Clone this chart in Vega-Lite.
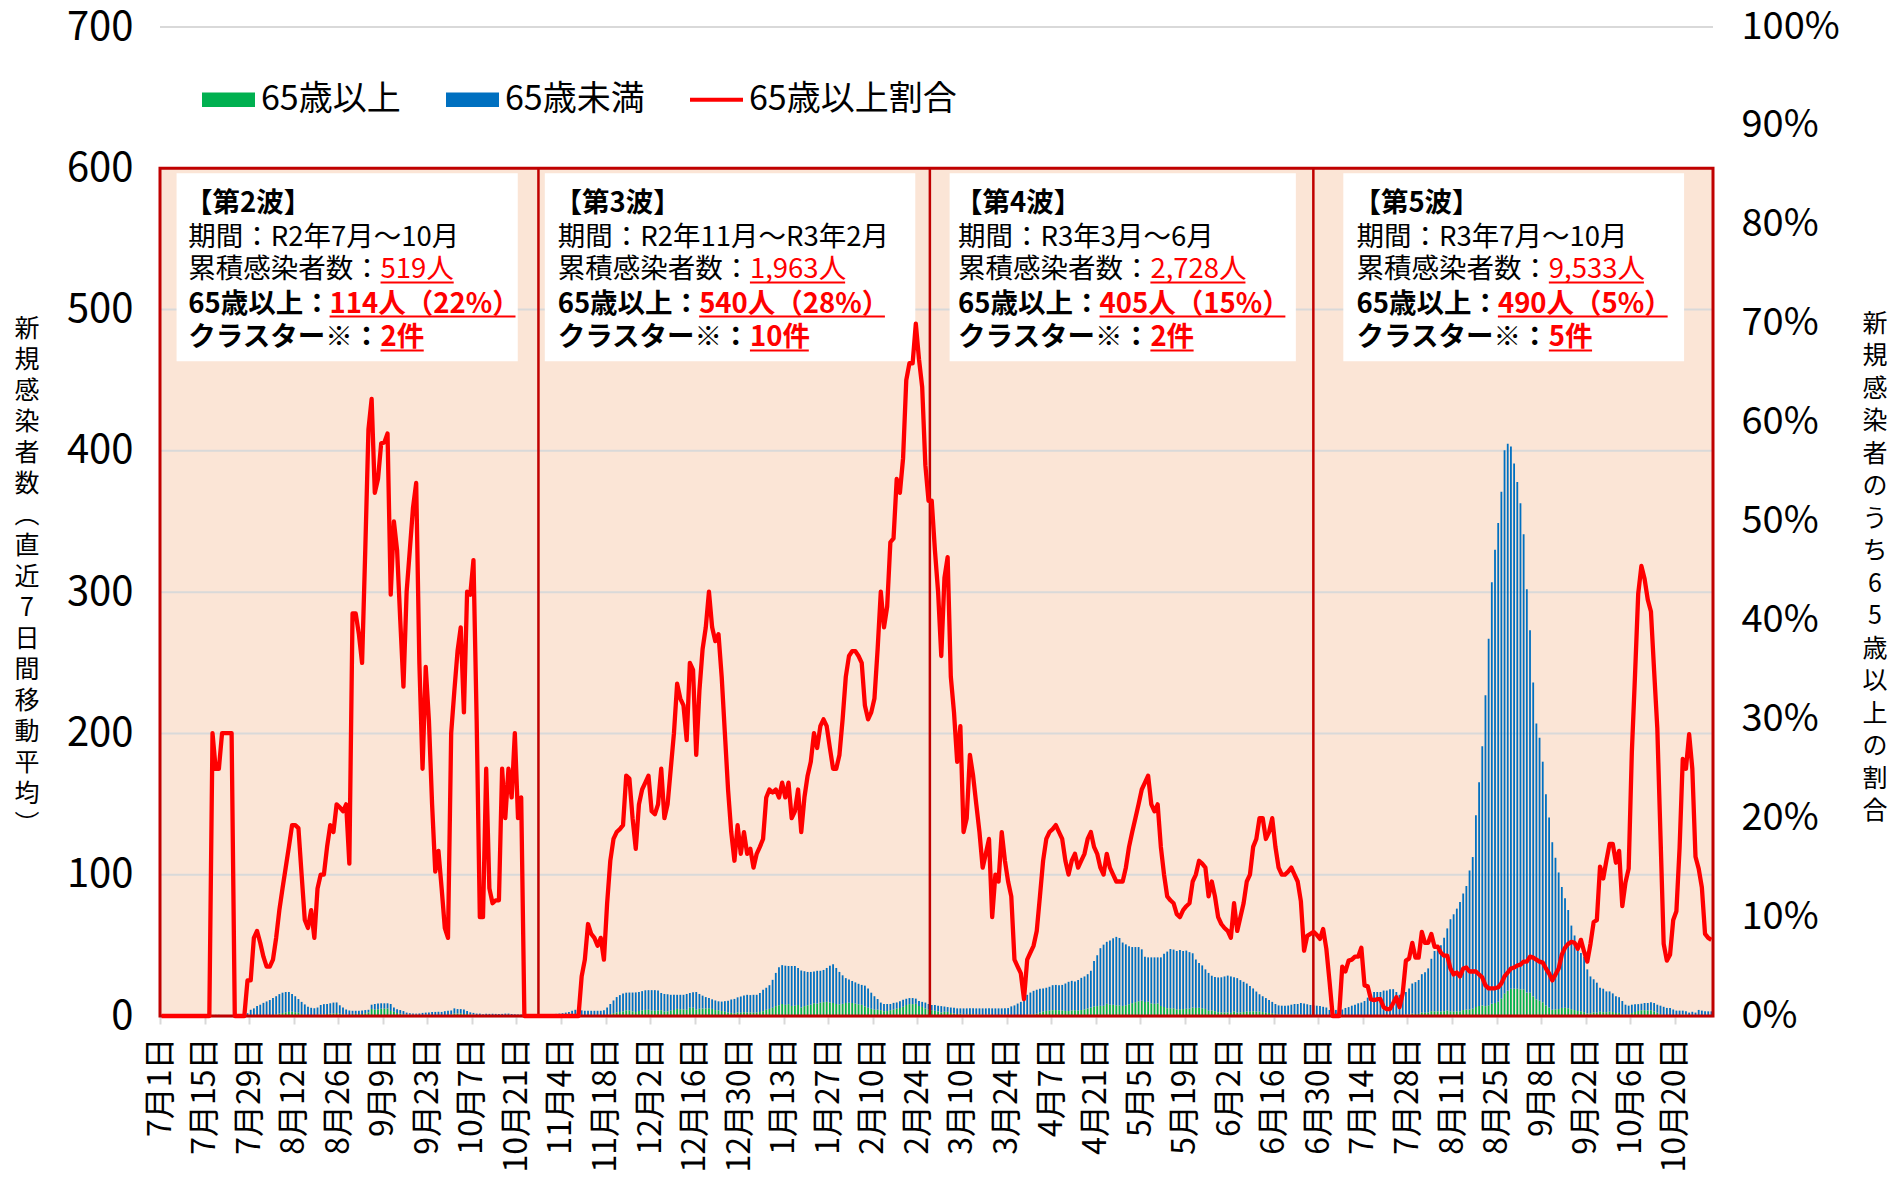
{
"$schema":"https://vega.github.io/schema/vega-lite/v6.json",
"autosize":{"type":"none"},
"width":1553,"height":989,
"padding":{"left":160,"top":27,"right":176,"bottom":169},
"background":"#ffffff",
"config":{"view":{"stroke":null},"font":"Noto Sans CJK JP",
"legend":{"labelFontSize":34,"labelFont":"Noto Sans CJK JP","labelColor":"#000000","labelOffset":6,"labelLimit":400,"columnPadding":45,"symbolSize":2809,"symbolStrokeWidth":0,"symbolOpacity":1,"padding":0}},
"datasets":{
"days":[
{"d":"2020-07-01","t":0,"g":0,"r":0},{"d":"2020-07-02","t":0,"g":0,"r":0},{"d":"2020-07-03","t":0,"g":0,"r":0},{"d":"2020-07-04","t":0,"g":0,"r":0},{"d":"2020-07-05","t":0,"g":0,"r":0},{"d":"2020-07-06","t":0,"g":0,"r":0},{"d":"2020-07-07","t":0,"g":0,"r":0},{"d":"2020-07-08","t":0,"g":0,"r":0},{"d":"2020-07-09","t":0,"g":0,"r":0},{"d":"2020-07-10","t":0,"g":0,"r":0},{"d":"2020-07-11","t":0,"g":0,"r":0},{"d":"2020-07-12","t":0,"g":0,"r":0},{"d":"2020-07-13","t":0,"g":0,"r":0},{"d":"2020-07-14","t":0,"g":0,"r":0},{"d":"2020-07-15","t":0,"g":0,"r":0},{"d":"2020-07-16","t":0,"g":0,"r":0},
{"d":"2020-07-17","t":0.7,"g":0.2,"r":28.6},{"d":"2020-07-18","t":0.8,"g":0.2,"r":25},{"d":"2020-07-19","t":0.8,"g":0.2,"r":25},{"d":"2020-07-20","t":0.7,"g":0.2,"r":28.6},{"d":"2020-07-21","t":0.7,"g":0.2,"r":28.6},{"d":"2020-07-22","t":0.7,"g":0.2,"r":28.6},{"d":"2020-07-23","t":0.7,"g":0.2,"r":28.6},
{"d":"2020-07-24","t":1,"g":0,"r":0},{"d":"2020-07-25","t":1.2,"g":0,"r":0},{"d":"2020-07-26","t":1.3,"g":0,"r":0},{"d":"2020-07-27","t":1.5,"g":0,"r":0},
{"d":"2020-07-28","t":2,"g":0.1,"r":3.6},{"d":"2020-07-29","t":4.4,"g":0.2,"r":3.6},{"d":"2020-07-30","t":5.4,"g":0.4,"r":7.9},{"d":"2020-07-31","t":7,"g":0.6,"r":8.6},
{"d":"2020-08-01","t":8,"g":0.6,"r":7.4},{"d":"2020-08-02","t":9.3,"g":0.6,"r":6},{"d":"2020-08-03","t":10.3,"g":0.5,"r":5},{"d":"2020-08-04","t":11.3,"g":0.6,"r":5},{"d":"2020-08-05","t":12.7,"g":0.7,"r":5.7},{"d":"2020-08-06","t":14,"g":1.1,"r":7.9},{"d":"2020-08-07","t":15.5,"g":1.7,"r":10.7},{"d":"2020-08-08","t":16.5,"g":2.1,"r":12.9},{"d":"2020-08-09","t":17,"g":2.6,"r":15},{"d":"2020-08-10","t":17,"g":2.9,"r":17.1},{"d":"2020-08-11","t":15.6,"g":3,"r":19.3},{"d":"2020-08-12","t":14,"g":2.7,"r":19.3},{"d":"2020-08-13","t":12,"g":2.3,"r":19},{"d":"2020-08-14","t":10,"g":1.4,"r":14.3},{"d":"2020-08-15","t":8.2,"g":0.8,"r":9.7},{"d":"2020-08-16","t":6.6,"g":0.6,"r":8.9},{"d":"2020-08-17","t":5.8,"g":0.6,"r":10.7},{"d":"2020-08-18","t":5.5,"g":0.4,"r":7.9},{"d":"2020-08-19","t":6,"g":0.8,"r":12.9},{"d":"2020-08-20","t":7.8,"g":1.1,"r":14.3},{"d":"2020-08-21","t":8.4,"g":1.2,"r":14.3},{"d":"2020-08-22","t":8.5,"g":1.5,"r":17.1},{"d":"2020-08-23","t":9,"g":1.7,"r":19.3},{"d":"2020-08-24","t":9.5,"g":1.8,"r":18.6},{"d":"2020-08-25","t":9.6,"g":2.1,"r":21.4},{"d":"2020-08-26","t":7.6,"g":1.6,"r":21.1},{"d":"2020-08-27","t":6,"g":1.3,"r":20.7},{"d":"2020-08-28","t":4.6,"g":1,"r":21.4},{"d":"2020-08-29","t":3.9,"g":0.6,"r":15.4},{"d":"2020-08-30","t":3.7,"g":1.5,"r":40.7},{"d":"2020-08-31","t":3.7,"g":1.5,"r":40.7},
{"d":"2020-09-01","t":3.7,"g":1.4,"r":38.6},{"d":"2020-09-02","t":3.9,"g":1.4,"r":35.7},{"d":"2020-09-03","t":4.2,"g":2,"r":47.1},{"d":"2020-09-04","t":4.4,"g":2.6,"r":59.3},{"d":"2020-09-05","t":8,"g":5,"r":62.4},{"d":"2020-09-06","t":8.5,"g":4.5,"r":52.9},{"d":"2020-09-07","t":8.8,"g":4.8,"r":54.3},{"d":"2020-09-08","t":9,"g":5.2,"r":57.9},{"d":"2020-09-09","t":9,"g":5.2,"r":58},{"d":"2020-09-10","t":9,"g":5.3,"r":58.9},{"d":"2020-09-11","t":8.5,"g":3.6,"r":42.6},{"d":"2020-09-12","t":6,"g":3,"r":50},{"d":"2020-09-13","t":4.7,"g":2.2,"r":47.1},{"d":"2020-09-14","t":4.2,"g":1.7,"r":40},{"d":"2020-09-15","t":3.5,"g":1.2,"r":33.3},{"d":"2020-09-16","t":2.4,"g":1,"r":42.9},{"d":"2020-09-17","t":2,"g":0.9,"r":47.1},{"d":"2020-09-18","t":1.7,"g":0.9,"r":51.4},{"d":"2020-09-19","t":1.7,"g":0.9,"r":53.9},{"d":"2020-09-20","t":1.8,"g":0.65,"r":35.7},{"d":"2020-09-21","t":2.2,"g":0.55,"r":25},{"d":"2020-09-22","t":2.4,"g":0.85,"r":35.3},{"d":"2020-09-23","t":2.4,"g":0.7,"r":29.9},{"d":"2020-09-24","t":2.9,"g":0.6,"r":21.4},{"d":"2020-09-25","t":2.9,"g":0.4,"r":14.6},{"d":"2020-09-26","t":3,"g":0.5,"r":16.7},{"d":"2020-09-27","t":2.9,"g":0.4,"r":12.9},{"d":"2020-09-28","t":3.4,"g":0.3,"r":8.9},{"d":"2020-09-29","t":3.7,"g":0.3,"r":7.9},{"d":"2020-09-30","t":3.9,"g":1.1,"r":28.6},
{"d":"2020-10-01","t":5.4,"g":1.8,"r":32.9},{"d":"2020-10-02","t":4.9,"g":1.8,"r":36.9},{"d":"2020-10-03","t":4.9,"g":1.9,"r":39.3},{"d":"2020-10-04","t":4.6,"g":1.4,"r":30.7},{"d":"2020-10-05","t":3.5,"g":1.5,"r":42.9},{"d":"2020-10-06","t":2.6,"g":1.1,"r":42.6},{"d":"2020-10-07","t":2.2,"g":1,"r":46.1},{"d":"2020-10-08","t":1.7,"g":0.5,"r":30},{"d":"2020-10-09","t":1.7,"g":0.17,"r":10},{"d":"2020-10-10","t":1.3,"g":0.13,"r":10},{"d":"2020-10-11","t":1.6,"g":0.4,"r":25},{"d":"2020-10-12","t":1.5,"g":0.2,"r":12.9},{"d":"2020-10-13","t":1.6,"g":0.2,"r":11.4},{"d":"2020-10-14","t":1.5,"g":0.18,"r":11.7},{"d":"2020-10-15","t":1.5,"g":0.18,"r":11.7},{"d":"2020-10-16","t":1.5,"g":0.38,"r":25},{"d":"2020-10-17","t":1.7,"g":0.34,"r":20},{"d":"2020-10-18","t":1.7,"g":0.43,"r":25},{"d":"2020-10-19","t":1.4,"g":0.31,"r":22.1},{"d":"2020-10-20","t":1.2,"g":0.34,"r":28.6},{"d":"2020-10-21","t":1.1,"g":0.22,"r":20},{"d":"2020-10-22","t":1,"g":0.22,"r":22.1},{"d":"2020-10-23","t":1,"g":0,"r":0},{"d":"2020-10-24","t":0.8,"g":0,"r":0},{"d":"2020-10-25","t":1,"g":0,"r":0},{"d":"2020-10-26","t":1,"g":0,"r":0},{"d":"2020-10-27","t":1,"g":0,"r":0},{"d":"2020-10-28","t":1.1,"g":0,"r":0},{"d":"2020-10-29","t":1.2,"g":0,"r":0},{"d":"2020-10-30","t":1.2,"g":0,"r":0},{"d":"2020-10-31","t":1.3,"g":0,"r":0},
{"d":"2020-11-01","t":1.4,"g":0,"r":0},{"d":"2020-11-02","t":1.5,"g":0,"r":0},{"d":"2020-11-03","t":1.7,"g":0,"r":0},{"d":"2020-11-04","t":2,"g":0,"r":0},{"d":"2020-11-05","t":2.4,"g":0,"r":0},{"d":"2020-11-06","t":2.8,"g":0,"r":0},{"d":"2020-11-07","t":3.7,"g":0,"r":0},{"d":"2020-11-08","t":4.4,"g":0,"r":0},{"d":"2020-11-09","t":4.4,"g":0,"r":0},{"d":"2020-11-10","t":4,"g":0.18,"r":4},{"d":"2020-11-11","t":3.7,"g":0.21,"r":5.7},{"d":"2020-11-12","t":3.7,"g":0.34,"r":9.3},{"d":"2020-11-13","t":3.7,"g":0.31,"r":8.3},{"d":"2020-11-14","t":3.7,"g":0.29,"r":7.9},{"d":"2020-11-15","t":3.7,"g":0.26,"r":7.1},{"d":"2020-11-16","t":3.7,"g":0.29,"r":7.9},{"d":"2020-11-17","t":4,"g":0.23,"r":5.7},{"d":"2020-11-18","t":6,"g":0.7,"r":11.4},{"d":"2020-11-19","t":8.5,"g":1.3,"r":15.7},{"d":"2020-11-20","t":11,"g":2,"r":17.9},{"d":"2020-11-21","t":13.4,"g":2.5,"r":18.6},{"d":"2020-11-22","t":14.8,"g":2.8,"r":18.9},{"d":"2020-11-23","t":16,"g":3.1,"r":19.3},{"d":"2020-11-24","t":16.5,"g":4,"r":24.3},{"d":"2020-11-25","t":16.6,"g":4,"r":24},{"d":"2020-11-26","t":16.6,"g":3.3,"r":20},{"d":"2020-11-27","t":16.7,"g":2.8,"r":16.9},{"d":"2020-11-28","t":17,"g":3.6,"r":21.4},{"d":"2020-11-29","t":17.6,"g":4,"r":22.9},{"d":"2020-11-30","t":18.2,"g":4.3,"r":23.6},
{"d":"2020-12-01","t":18.3,"g":4.4,"r":24.3},{"d":"2020-12-02","t":18.3,"g":3.8,"r":20.7},{"d":"2020-12-03","t":18.3,"g":3.7,"r":20.4},{"d":"2020-12-04","t":18,"g":3.9,"r":21.4},{"d":"2020-12-05","t":16.3,"g":4.1,"r":25},{"d":"2020-12-06","t":15.6,"g":3.1,"r":20},{"d":"2020-12-07","t":15.4,"g":3.3,"r":21.4},{"d":"2020-12-08","t":15,"g":3.8,"r":25},{"d":"2020-12-09","t":15,"g":4.3,"r":28.6},{"d":"2020-12-10","t":15,"g":5,"r":33.6},{"d":"2020-12-11","t":15,"g":4.8,"r":32.1},{"d":"2020-12-12","t":15,"g":4.7,"r":31.4},{"d":"2020-12-13","t":15.6,"g":4.4,"r":27.9},{"d":"2020-12-14","t":16.3,"g":5.8,"r":35.7},{"d":"2020-12-15","t":16.8,"g":5.9,"r":35},{"d":"2020-12-16","t":17,"g":4.5,"r":26.4},{"d":"2020-12-17","t":15.6,"g":5.1,"r":32.9},{"d":"2020-12-18","t":14.4,"g":5.3,"r":37.1},{"d":"2020-12-19","t":13.4,"g":5.3,"r":39.3},{"d":"2020-12-20","t":12.7,"g":5.4,"r":42.9},{"d":"2020-12-21","t":11.8,"g":5,"r":39.3},{"d":"2020-12-22","t":11,"g":4.2,"r":37.9},{"d":"2020-12-23","t":10.4,"g":4,"r":38.6},{"d":"2020-12-24","t":10.2,"g":3.5,"r":34.3},{"d":"2020-12-25","t":10.5,"g":3,"r":28.6},{"d":"2020-12-26","t":10.8,"g":2.5,"r":22.9},{"d":"2020-12-27","t":11.7,"g":2.2,"r":18.6},{"d":"2020-12-28","t":12.1,"g":1.9,"r":15.7},{"d":"2020-12-29","t":13.2,"g":2.5,"r":19.3},{"d":"2020-12-30","t":13.8,"g":2.3,"r":16.4},{"d":"2020-12-31","t":14.5,"g":2.7,"r":18.6},
{"d":"2021-01-01","t":15,"g":2.5,"r":16.4},{"d":"2021-01-02","t":14.8,"g":2.5,"r":16.9},{"d":"2021-01-03","t":15,"g":2.3,"r":15},{"d":"2021-01-04","t":15,"g":2.5,"r":16.4},{"d":"2021-01-05","t":16.3,"g":2.8,"r":17.1},{"d":"2021-01-06","t":18.5,"g":3.3,"r":17.9},{"d":"2021-01-07","t":20,"g":4.4,"r":22.1},{"d":"2021-01-08","t":21.8,"g":5,"r":22.9},{"d":"2021-01-09","t":25.6,"g":5.8,"r":22.6},{"d":"2021-01-10","t":30.5,"g":7,"r":22.9},{"d":"2021-01-11","t":34.5,"g":7.6,"r":22.1},{"d":"2021-01-12","t":36,"g":8.5,"r":23.6},{"d":"2021-01-13","t":35.6,"g":7.9,"r":22.1},{"d":"2021-01-14","t":35.4,"g":8.4,"r":23.6},{"d":"2021-01-15","t":35.4,"g":7.1,"r":20},{"d":"2021-01-16","t":35.4,"g":7.3,"r":20.7},{"d":"2021-01-17","t":34,"g":7.8,"r":22.9},{"d":"2021-01-18","t":32.2,"g":6,"r":18.6},{"d":"2021-01-19","t":31.7,"g":7,"r":22.1},{"d":"2021-01-20","t":31.2,"g":7.6,"r":24.3},{"d":"2021-01-21","t":31.2,"g":8,"r":25.7},{"d":"2021-01-22","t":31.5,"g":9,"r":28.6},{"d":"2021-01-23","t":32,"g":8.7,"r":27.1},{"d":"2021-01-24","t":32,"g":9.4,"r":29.3},{"d":"2021-01-25","t":32.6,"g":9.8,"r":30},{"d":"2021-01-26","t":34,"g":10,"r":29.3},{"d":"2021-01-27","t":35.6,"g":9.6,"r":27.1},{"d":"2021-01-28","t":36.6,"g":9.2,"r":25},{"d":"2021-01-29","t":34,"g":8.5,"r":25},{"d":"2021-01-30","t":31.2,"g":8.2,"r":26.4},{"d":"2021-01-31","t":28.8,"g":8.6,"r":30},
{"d":"2021-02-01","t":26.8,"g":9.2,"r":34.3},{"d":"2021-02-02","t":25.8,"g":9.4,"r":36.4},{"d":"2021-02-03","t":24.8,"g":9.2,"r":36.9},{"d":"2021-02-04","t":23.8,"g":8.8,"r":36.9},{"d":"2021-02-05","t":22.8,"g":8.3,"r":36.4},{"d":"2021-02-06","t":22,"g":7.9,"r":35.7},{"d":"2021-02-07","t":21.5,"g":6.8,"r":31.4},{"d":"2021-02-08","t":19.5,"g":5.9,"r":30},{"d":"2021-02-09","t":16.5,"g":5.1,"r":30.7},{"d":"2021-02-10","t":14,"g":4.5,"r":32.1},{"d":"2021-02-11","t":12,"g":4.5,"r":37.1},{"d":"2021-02-12","t":9.5,"g":4.1,"r":42.9},{"d":"2021-02-13","t":8.5,"g":3.3,"r":39.3},{"d":"2021-02-14","t":8.5,"g":3.5,"r":41.4},{"d":"2021-02-15","t":8.5,"g":4.1,"r":47.9},{"d":"2021-02-16","t":9.3,"g":4.5,"r":48.3},{"d":"2021-02-17","t":9.6,"g":5.2,"r":54.3},{"d":"2021-02-18","t":10.5,"g":5.6,"r":52.9},{"d":"2021-02-19","t":11.5,"g":6.5,"r":56.4},{"d":"2021-02-20","t":12.2,"g":7.8,"r":64.3},{"d":"2021-02-21","t":12.7,"g":8.4,"r":66},{"d":"2021-02-22","t":12.7,"g":8.4,"r":66},{"d":"2021-02-23","t":12.3,"g":8.6,"r":70},{"d":"2021-02-24","t":10.6,"g":7,"r":66.4},{"d":"2021-02-25","t":10,"g":6.4,"r":63.6},{"d":"2021-02-26","t":9.5,"g":5.3,"r":55.7},{"d":"2021-02-27","t":8.5,"g":4.4,"r":52.1},{"d":"2021-02-28","t":7.8,"g":4.1,"r":52.1},
{"d":"2021-03-01","t":7.8,"g":3.7,"r":47.1},{"d":"2021-03-02","t":7.3,"g":3.1,"r":42.9},{"d":"2021-03-03","t":7,"g":2.5,"r":36.4},{"d":"2021-03-04","t":6.7,"g":3,"r":44.3},{"d":"2021-03-05","t":6.3,"g":2.9,"r":46.4},{"d":"2021-03-06","t":6,"g":2.1,"r":34.3},{"d":"2021-03-07","t":5.8,"g":1.8,"r":30.7},{"d":"2021-03-08","t":5.4,"g":1.4,"r":25.7},{"d":"2021-03-09","t":5.4,"g":1.6,"r":29.3},{"d":"2021-03-10","t":5.4,"g":1,"r":18.6},{"d":"2021-03-11","t":5.4,"g":1.1,"r":20},{"d":"2021-03-12","t":5.4,"g":1.4,"r":26.4},{"d":"2021-03-13","t":5.4,"g":1.3,"r":24.3},{"d":"2021-03-14","t":5.4,"g":1.2,"r":21.4},{"d":"2021-03-15","t":5.4,"g":1,"r":18.6},{"d":"2021-03-16","t":5.4,"g":0.8,"r":15},{"d":"2021-03-17","t":5.4,"g":0.9,"r":16.4},{"d":"2021-03-18","t":5.4,"g":1,"r":17.9},{"d":"2021-03-19","t":5.4,"g":0.5,"r":10},{"d":"2021-03-20","t":5.4,"g":0.8,"r":14.3},{"d":"2021-03-21","t":5.4,"g":0.7,"r":13.6},{"d":"2021-03-22","t":5.4,"g":1,"r":18.6},{"d":"2021-03-23","t":5.4,"g":0.85,"r":15.7},{"d":"2021-03-24","t":5.6,"g":0.76,"r":13.6},{"d":"2021-03-25","t":6.8,"g":0.8,"r":12.1},{"d":"2021-03-26","t":7.5,"g":0.43,"r":5.7},{"d":"2021-03-27","t":8.8,"g":0.44,"r":5},{"d":"2021-03-28","t":10,"g":0.43,"r":4.3},{"d":"2021-03-29","t":13.4,"g":0.23,"r":1.7},{"d":"2021-03-30","t":15,"g":0.86,"r":5.7},{"d":"2021-03-31","t":16.6,"g":1.06,"r":6.4},
{"d":"2021-04-01","t":17.8,"g":1.27,"r":7.1},{"d":"2021-04-02","t":18.6,"g":1.6,"r":8.6},{"d":"2021-04-03","t":19.2,"g":2.3,"r":12.1},{"d":"2021-04-04","t":19.5,"g":3.1,"r":15.7},{"d":"2021-04-05","t":20,"g":3.6,"r":17.9},{"d":"2021-04-06","t":20.7,"g":3.9,"r":18.6},{"d":"2021-04-07","t":21.8,"g":4.1,"r":18.9},{"d":"2021-04-08","t":22,"g":4.2,"r":19.3},{"d":"2021-04-09","t":21.8,"g":4.1,"r":18.6},{"d":"2021-04-10","t":22,"g":3.9,"r":17.9},{"d":"2021-04-11","t":23,"g":3.6,"r":15.7},{"d":"2021-04-12","t":24.2,"g":3.5,"r":14.3},{"d":"2021-04-13","t":24.9,"g":3.9,"r":15.7},{"d":"2021-04-14","t":24.5,"g":4,"r":16.4},{"d":"2021-04-15","t":25.5,"g":3.8,"r":15},{"d":"2021-04-16","t":27,"g":4.2,"r":15.7},{"d":"2021-04-17","t":28,"g":4.6,"r":16.4},{"d":"2021-04-18","t":29.6,"g":5.3,"r":17.9},{"d":"2021-04-19","t":32,"g":6,"r":18.6},{"d":"2021-04-20","t":39,"g":6.7,"r":17.1},{"d":"2021-04-21","t":43,"g":7,"r":16.4},{"d":"2021-04-22","t":48,"g":7.2,"r":15},{"d":"2021-04-23","t":50.5,"g":7.2,"r":14.3},{"d":"2021-04-24","t":52.5,"g":8.6,"r":16.4},{"d":"2021-04-25","t":53.5,"g":8,"r":15},{"d":"2021-04-26","t":55,"g":7.9,"r":14.3},{"d":"2021-04-27","t":56,"g":7.6,"r":13.6},{"d":"2021-04-28","t":55.2,"g":7.5,"r":13.6},{"d":"2021-04-29","t":52,"g":7.1,"r":13.6},{"d":"2021-04-30","t":50.7,"g":7.6,"r":15},
{"d":"2021-05-01","t":49.3,"g":8.4,"r":17.1},{"d":"2021-05-02","t":48.8,"g":9.1,"r":18.6},{"d":"2021-05-03","t":48.8,"g":9.8,"r":20},{"d":"2021-05-04","t":48.8,"g":10.4,"r":21.4},{"d":"2021-05-05","t":47.2,"g":10.8,"r":22.9},{"d":"2021-05-06","t":42,"g":9.9,"r":23.6},{"d":"2021-05-07","t":41.5,"g":10.1,"r":24.3},{"d":"2021-05-08","t":41.5,"g":8.9,"r":21.4},{"d":"2021-05-09","t":41.5,"g":8.6,"r":20.7},{"d":"2021-05-10","t":41.5,"g":8.9,"r":21.4},{"d":"2021-05-11","t":41.5,"g":7.1,"r":17.1},{"d":"2021-05-12","t":44,"g":6.3,"r":14.3},{"d":"2021-05-13","t":45.6,"g":5.5,"r":12.1},{"d":"2021-05-14","t":47.4,"g":5.5,"r":11.7},{"d":"2021-05-15","t":47,"g":5.4,"r":11.4},{"d":"2021-05-16","t":46,"g":4.7,"r":10.3},{"d":"2021-05-17","t":46.7,"g":4.7,"r":10},{"d":"2021-05-18","t":46,"g":4.9,"r":10.7},{"d":"2021-05-19","t":46.3,"g":5.1,"r":11.1},{"d":"2021-05-20","t":45.2,"g":5.2,"r":11.4},{"d":"2021-05-21","t":44.4,"g":6,"r":13.6},{"d":"2021-05-22","t":40,"g":5.7,"r":14.3},{"d":"2021-05-23","t":37.5,"g":5.9,"r":15.7},{"d":"2021-05-24","t":35.8,"g":5.5,"r":15.4},{"d":"2021-05-25","t":33,"g":5,"r":15},{"d":"2021-05-26","t":30.5,"g":3.7,"r":12.1},{"d":"2021-05-27","t":28.5,"g":3.9,"r":13.6},{"d":"2021-05-28","t":27.6,"g":3.3,"r":12.1},{"d":"2021-05-29","t":27.3,"g":2.7,"r":10},{"d":"2021-05-30","t":27.4,"g":2.5,"r":9.3},{"d":"2021-05-31","t":28,"g":2.5,"r":8.9},
{"d":"2021-06-01","t":28.6,"g":2.5,"r":8.6},{"d":"2021-06-02","t":28,"g":2.2,"r":7.9},{"d":"2021-06-03","t":27.5,"g":3.1,"r":11.4},{"d":"2021-06-04","t":26.8,"g":2.3,"r":8.6},{"d":"2021-06-05","t":25.4,"g":2.5,"r":10},{"d":"2021-06-06","t":24.2,"g":2.8,"r":11.4},{"d":"2021-06-07","t":23,"g":3.1,"r":13.6},{"d":"2021-06-08","t":21.3,"g":3,"r":14.3},{"d":"2021-06-09","t":19.5,"g":3.3,"r":17.1},{"d":"2021-06-10","t":17.3,"g":3.1,"r":17.9},{"d":"2021-06-11","t":15.4,"g":3.1,"r":20},{"d":"2021-06-12","t":14,"g":2.8,"r":20},{"d":"2021-06-13","t":12.7,"g":2.3,"r":17.9},{"d":"2021-06-14","t":11.4,"g":2.1,"r":18.6},{"d":"2021-06-15","t":10,"g":2,"r":20},{"d":"2021-06-16","t":8.5,"g":1.5,"r":17.1},{"d":"2021-06-17","t":7.5,"g":1.1,"r":15},{"d":"2021-06-18","t":7.3,"g":1,"r":14.3},{"d":"2021-06-19","t":7.3,"g":1,"r":14.3},{"d":"2021-06-20","t":7.4,"g":1.1,"r":14.6},{"d":"2021-06-21","t":8,"g":1.2,"r":15},{"d":"2021-06-22","t":8.5,"g":1.2,"r":14.3},{"d":"2021-06-23","t":8.5,"g":1.2,"r":13.6},{"d":"2021-06-24","t":9.2,"g":1.1,"r":11.6},{"d":"2021-06-25","t":8.8,"g":0.6,"r":6.6},{"d":"2021-06-26","t":8.3,"g":0.7,"r":8.1},{"d":"2021-06-27","t":7.8,"g":0.65,"r":8.3},{"d":"2021-06-28","t":7.5,"g":0.64,"r":8.5},{"d":"2021-06-29","t":7.3,"g":0.6,"r":8.2},{"d":"2021-06-30","t":7,"g":0.5,"r":7.8},
{"d":"2021-07-01","t":6.5,"g":0.6,"r":8.8},{"d":"2021-07-02","t":6,"g":0.4,"r":6.8},{"d":"2021-07-03","t":4.3,"g":0.2,"r":3.5},{"d":"2021-07-04","t":4,"g":0,"r":0},{"d":"2021-07-05","t":4.3,"g":0,"r":0},{"d":"2021-07-06","t":4.3,"g":0,"r":0},{"d":"2021-07-07","t":4.6,"g":0.2,"r":5},{"d":"2021-07-08","t":5.7,"g":0.3,"r":4.5},{"d":"2021-07-09","t":6.3,"g":0.35,"r":5.6},{"d":"2021-07-10","t":7.3,"g":0.4,"r":5.7},{"d":"2021-07-11","t":8,"g":0.5,"r":6},{"d":"2021-07-12","t":9,"g":0.5,"r":6},{"d":"2021-07-13","t":9.5,"g":0.65,"r":6.9},{"d":"2021-07-14","t":10.6,"g":0.35,"r":3.1},{"d":"2021-07-15","t":13,"g":0.4,"r":3},{"d":"2021-07-16","t":13,"g":0.2,"r":1.7},{"d":"2021-07-17","t":17,"g":0.3,"r":1.6},{"d":"2021-07-18","t":17,"g":0.3,"r":1.7},{"d":"2021-07-19","t":17,"g":0.3,"r":1.7},{"d":"2021-07-20","t":18,"g":0.2,"r":0.9},{"d":"2021-07-21","t":18,"g":0.15,"r":0.7},{"d":"2021-07-22","t":19,"g":0.15,"r":0.7},{"d":"2021-07-23","t":19,"g":0.25,"r":1.3},{"d":"2021-07-24","t":17,"g":0.3,"r":1.9},{"d":"2021-07-25","t":15,"g":0.15,"r":0.9},{"d":"2021-07-26","t":16,"g":0.4,"r":2.3},{"d":"2021-07-27","t":17,"g":1,"r":5.6},{"d":"2021-07-28","t":19.5,"g":1.1,"r":5.8},{"d":"2021-07-29","t":23,"g":1.7,"r":7.4},{"d":"2021-07-30","t":24,"g":1.4,"r":5.9},{"d":"2021-07-31","t":25.5,"g":1.5,"r":5.9},
{"d":"2021-08-01","t":29.6,"g":2.5,"r":8.5},{"d":"2021-08-02","t":31,"g":2.3,"r":7.4},{"d":"2021-08-03","t":33.7,"g":2.5,"r":7.4},{"d":"2021-08-04","t":40.5,"g":3.4,"r":8.3},{"d":"2021-08-05","t":46,"g":3.2,"r":7},{"d":"2021-08-06","t":46.5,"g":3.3,"r":7},{"d":"2021-08-07","t":50,"g":3.2,"r":6.4},{"d":"2021-08-08","t":55.4,"g":3.4,"r":6.1},{"d":"2021-08-09","t":62,"g":3.8,"r":6.1},{"d":"2021-08-10","t":68.5,"g":3.3,"r":4.8},{"d":"2021-08-11","t":72,"g":3,"r":4.2},{"d":"2021-08-12","t":76,"g":3.3,"r":4.4},{"d":"2021-08-13","t":80.7,"g":3.2,"r":4},{"d":"2021-08-14","t":86.7,"g":4.2,"r":4.8},{"d":"2021-08-15","t":92,"g":4.5,"r":4.9},{"d":"2021-08-16","t":103,"g":4.6,"r":4.5},{"d":"2021-08-17","t":112.5,"g":5.1,"r":4.5},{"d":"2021-08-18","t":142,"g":6.4,"r":4.5},{"d":"2021-08-19","t":165.5,"g":7,"r":4.2},{"d":"2021-08-20","t":191,"g":7.4,"r":3.9},{"d":"2021-08-21","t":227,"g":7,"r":3.1},{"d":"2021-08-22","t":267,"g":7.5,"r":2.8},{"d":"2021-08-23","t":307,"g":8.6,"r":2.8},{"d":"2021-08-24","t":330,"g":9.2,"r":2.8},{"d":"2021-08-25","t":349,"g":10.1,"r":2.9},{"d":"2021-08-26","t":371,"g":12.2,"r":3.3},{"d":"2021-08-27","t":400.5,"g":16,"r":4},{"d":"2021-08-28","t":405,"g":17.8,"r":4.4},{"d":"2021-08-29","t":403,"g":19.3,"r":4.8},{"d":"2021-08-30","t":391,"g":19.2,"r":4.9},{"d":"2021-08-31","t":378,"g":19.3,"r":5.1},
{"d":"2021-09-01","t":363,"g":18.9,"r":5.2},{"d":"2021-09-02","t":341,"g":18.8,"r":5.5},{"d":"2021-09-03","t":302,"g":16.6,"r":5.5},{"d":"2021-09-04","t":273,"g":16.4,"r":6},{"d":"2021-09-05","t":236,"g":13.9,"r":5.9},{"d":"2021-09-06","t":207,"g":11.8,"r":5.7},{"d":"2021-09-07","t":197,"g":10.8,"r":5.5},{"d":"2021-09-08","t":180,"g":9.7,"r":5.4},{"d":"2021-09-09","t":157,"g":7.5,"r":4.8},{"d":"2021-09-10","t":140.5,"g":6,"r":4.3},{"d":"2021-09-11","t":123,"g":4.4,"r":3.6},{"d":"2021-09-12","t":112,"g":4.7,"r":4.2},{"d":"2021-09-13","t":101.6,"g":4.9,"r":4.8},{"d":"2021-09-14","t":91.3,"g":5.7,"r":6.2},{"d":"2021-09-15","t":83.4,"g":5.8,"r":6.9},{"d":"2021-09-16","t":75,"g":5.5,"r":7.3},{"d":"2021-09-17","t":64,"g":4.8,"r":7.5},{"d":"2021-09-18","t":57,"g":4.2,"r":7.4},{"d":"2021-09-19","t":51,"g":3.5,"r":6.8},{"d":"2021-09-20","t":44.6,"g":3.4,"r":7.7},{"d":"2021-09-21","t":42,"g":2.7,"r":6.5},{"d":"2021-09-22","t":33,"g":1.8,"r":5.5},{"d":"2021-09-23","t":28,"g":2,"r":7.3},{"d":"2021-09-24","t":26,"g":2.5,"r":9.5},{"d":"2021-09-25","t":23.6,"g":2.3,"r":9.7},{"d":"2021-09-26","t":20,"g":3,"r":15.1},{"d":"2021-09-27","t":19.3,"g":2.7,"r":13.9},{"d":"2021-09-28","t":17.4,"g":2.7,"r":15.7},{"d":"2021-09-29","t":17.4,"g":3,"r":17.4},{"d":"2021-09-30","t":16,"g":2.8,"r":17.4},
{"d":"2021-10-01","t":14,"g":2.2,"r":15.5},{"d":"2021-10-02","t":13.3,"g":2.2,"r":16.7},{"d":"2021-10-03","t":10.6,"g":1.2,"r":11.1},{"d":"2021-10-04","t":8,"g":1.1,"r":13.5},{"d":"2021-10-05","t":7.3,"g":1.1,"r":14.9},{"d":"2021-10-06","t":8,"g":2.1,"r":26.7},{"d":"2021-10-07","t":8.4,"g":2.9,"r":34.5},{"d":"2021-10-08","t":8.4,"g":3.6,"r":42.7},{"d":"2021-10-09","t":8.7,"g":4,"r":45.5},{"d":"2021-10-10","t":9.2,"g":4.1,"r":44.2},{"d":"2021-10-11","t":9.2,"g":3.9,"r":42.1},{"d":"2021-10-12","t":9.8,"g":4,"r":40.9},{"d":"2021-10-13","t":9.2,"g":3.2,"r":34.9},{"d":"2021-10-14","t":8,"g":2.3,"r":29.1},{"d":"2021-10-15","t":7.3,"g":1.3,"r":18.2},{"d":"2021-10-16","t":6.5,"g":0.5,"r":7.3},{"d":"2021-10-17","t":5.7,"g":0.3,"r":5.6},{"d":"2021-10-18","t":5.7,"g":0.35,"r":6.2},{"d":"2021-10-19","t":4.6,"g":0.45,"r":9.7},{"d":"2021-10-20","t":3.8,"g":0.4,"r":10.6},{"d":"2021-10-21","t":3.8,"g":0.65,"r":17},{"d":"2021-10-22","t":3.8,"g":1,"r":26},{"d":"2021-10-23","t":3.3,"g":0.8,"r":25},{"d":"2021-10-24","t":2.4,"g":0.7,"r":28.5},{"d":"2021-10-25","t":3,"g":0.75,"r":25},{"d":"2021-10-26","t":2.4,"g":0.4,"r":16.1},{"d":"2021-10-27","t":4.3,"g":0.6,"r":14.9},{"d":"2021-10-28","t":3.8,"g":0.5,"r":13},{"d":"2021-10-29","t":3.3,"g":0.3,"r":8.3},{"d":"2021-10-30","t":3.3,"g":0.25,"r":7.9},{"d":"2021-10-31","t":3.3,"g":0.25,"r":7.7}
],
"grid":[{"g":100},{"g":200},{"g":300},{"g":400},{"g":500},{"g":600},{"g":700}],
"frame":[{"x1":"2020-07-01T00:00:00Z","x2":"2021-11-01T00:00:00Z","y1":0,"y2":600}],
"waves":[{"x":"2020-10-27T22:00:00Z","y1":0,"y2":600},{"x":"2021-02-27T22:00:00Z","y1":0,"y2":600},{"x":"2021-06-28T10:00:00Z","y1":0,"y2":600}],
"boxes":[
{"x1":"2020-07-06T05:00:00Z","x2":"2020-10-21T10:00:00Z","y1":463.5,"y2":596.5},
{"x1":"2020-10-29T22:00:00Z","x2":"2021-02-23T08:00:00Z","y1":463.5,"y2":596.5},
{"x1":"2021-03-06T03:00:00Z","x2":"2021-06-22T22:00:00Z","y1":463.5,"y2":596.5},
{"x1":"2021-07-07T20:00:00Z","x2":"2021-10-22T22:00:00Z","y1":463.5,"y2":596.5}],
"labB":[
{"x":"2020-07-08T21:00:00Z","y":569.1,"t":"【第2波】"},
{"x":"2020-11-01T23:00:00Z","y":569.1,"t":"【第3波】"},
{"x":"2021-03-07T19:00:00Z","y":569.1,"t":"【第4波】"},
{"x":"2021-07-11T00:00:00Z","y":569.1,"t":"【第5波】"},
{"x":"2020-07-09T21:00:00Z","y":497.9,"t":"65歳以上："},
{"x":"2020-11-02T23:00:00Z","y":497.9,"t":"65歳以上："},
{"x":"2021-03-08T19:00:00Z","y":497.9,"t":"65歳以上："},
{"x":"2021-07-12T00:00:00Z","y":497.9,"t":"65歳以上："},
{"x":"2020-07-09T21:00:00Z","y":473.9,"t":"クラスター※："},
{"x":"2020-11-02T23:00:00Z","y":473.9,"t":"クラスター※："},
{"x":"2021-03-08T19:00:00Z","y":473.9,"t":"クラスター※："},
{"x":"2021-07-12T00:00:00Z","y":473.9,"t":"クラスター※："}],
"labN":[
{"x":"2020-07-09T21:00:00Z","y":545.0,"t":"期間：R2年7月～10月"},
{"x":"2020-11-02T23:00:00Z","y":545.0,"t":"期間：R2年11月～R3年2月"},
{"x":"2021-03-08T19:00:00Z","y":545.0,"t":"期間：R3年3月～6月"},
{"x":"2021-07-12T00:00:00Z","y":545.0,"t":"期間：R3年7月～10月"},
{"x":"2020-07-09T21:00:00Z","y":522.0,"t":"累積感染者数："},
{"x":"2020-11-02T23:00:00Z","y":522.0,"t":"累積感染者数："},
{"x":"2021-03-08T19:00:00Z","y":522.0,"t":"累積感染者数："},
{"x":"2021-07-12T00:00:00Z","y":522.0,"t":"累積感染者数："}],
"valN":[
{"x":"2020-09-08T07:00:00Z","y":522.0,"t":"519人"},
{"x":"2021-01-02T09:00:00Z","y":522.0,"t":"1,963人"},
{"x":"2021-05-08T05:00:00Z","y":522.0,"t":"2,728人"},
{"x":"2021-09-10T10:00:00Z","y":522.0,"t":"9,533人"}],
"valB":[
{"x":"2020-08-23T07:00:00Z","y":497.9,"t":"114人（22%）"},
{"x":"2020-12-17T10:00:00Z","y":497.9,"t":"540人（28%）"},
{"x":"2021-04-22T06:00:00Z","y":497.9,"t":"405人（15%）"},
{"x":"2021-08-25T10:00:00Z","y":497.9,"t":"490人（5%）"},
{"x":"2020-09-08T07:00:00Z","y":473.9,"t":"2件"},
{"x":"2021-01-02T09:00:00Z","y":473.9,"t":"10件"},
{"x":"2021-05-08T05:00:00Z","y":473.9,"t":"2件"},
{"x":"2021-09-10T10:00:00Z","y":473.9,"t":"5件"}],
"uline":[
{"x":"2020-09-08T07:00:00Z","x2":"2020-10-01T07:00:00Z","y":519.2},
{"x":"2021-01-02T09:00:00Z","x2":"2021-02-01T07:00:00Z","y":519.2},
{"x":"2021-05-08T05:00:00Z","x2":"2021-06-07T02:00:00Z","y":519.2},
{"x":"2021-09-10T10:00:00Z","x2":"2021-10-10T07:00:00Z","y":519.2},
{"x":"2020-08-23T07:00:00Z","x2":"2020-10-20T17:00:00Z","y":495.1},
{"x":"2020-12-17T10:00:00Z","x2":"2021-02-13T19:00:00Z","y":495.1},
{"x":"2021-04-22T06:00:00Z","x2":"2021-06-19T15:00:00Z","y":495.1},
{"x":"2021-08-25T10:00:00Z","x2":"2021-10-17T18:00:00Z","y":495.1},
{"x":"2020-09-08T07:00:00Z","x2":"2020-09-21T21:00:00Z","y":471.0},
{"x":"2021-01-02T09:00:00Z","x2":"2021-01-20T21:00:00Z","y":471.0},
{"x":"2021-05-08T05:00:00Z","x2":"2021-05-21T19:00:00Z","y":471.0},
{"x":"2021-09-10T10:00:00Z","x2":"2021-09-24T00:00:00Z","y":471.0}],
"legend":[{"k":"65歳以上"},{"k":"65歳未満"},{"k":"65歳以上割合"}]
},
"layer":[
{"layer":[
{"data":{"name":"frame"},"mark":{"type":"rect","fill":"#FBE5D6"},
"encoding":{"x":{"field":"x1","type":"temporal","scale":{"type":"utc","domain":[{"year":2020,"month":7,"date":1,"utc":true},{"year":2021,"month":11,"date":1,"utc":true}],"nice":false},
"axis":{"title":null,"values":[{"year":2020,"month":7,"date":1,"utc":true},{"year":2020,"month":7,"date":15,"utc":true},{"year":2020,"month":7,"date":29,"utc":true},{"year":2020,"month":8,"date":12,"utc":true},{"year":2020,"month":8,"date":26,"utc":true},{"year":2020,"month":9,"date":9,"utc":true},{"year":2020,"month":9,"date":23,"utc":true},{"year":2020,"month":10,"date":7,"utc":true},{"year":2020,"month":10,"date":21,"utc":true},{"year":2020,"month":11,"date":4,"utc":true},{"year":2020,"month":11,"date":18,"utc":true},{"year":2020,"month":12,"date":2,"utc":true},{"year":2020,"month":12,"date":16,"utc":true},{"year":2020,"month":12,"date":30,"utc":true},{"year":2021,"month":1,"date":13,"utc":true},{"year":2021,"month":1,"date":27,"utc":true},{"year":2021,"month":2,"date":10,"utc":true},{"year":2021,"month":2,"date":24,"utc":true},{"year":2021,"month":3,"date":10,"utc":true},{"year":2021,"month":3,"date":24,"utc":true},{"year":2021,"month":4,"date":7,"utc":true},{"year":2021,"month":4,"date":21,"utc":true},{"year":2021,"month":5,"date":5,"utc":true},{"year":2021,"month":5,"date":19,"utc":true},{"year":2021,"month":6,"date":2,"utc":true},{"year":2021,"month":6,"date":16,"utc":true},{"year":2021,"month":6,"date":30,"utc":true},{"year":2021,"month":7,"date":14,"utc":true},{"year":2021,"month":7,"date":28,"utc":true},{"year":2021,"month":8,"date":11,"utc":true},{"year":2021,"month":8,"date":25,"utc":true},{"year":2021,"month":9,"date":8,"utc":true},{"year":2021,"month":9,"date":22,"utc":true},{"year":2021,"month":10,"date":6,"utc":true},{"year":2021,"month":10,"date":20,"utc":true}],
"format":"%-m月%-d日","labelAngle":-90,"labelFontSize":32,"labelFont":"Noto Sans CJK JP","labelColor":"#000000","labelPadding":13,"labelOverlap":false,"labelFlush":false,"ticks":true,"tickSize":8,"tickColor":"#D9D9D9","tickWidth":2,"domain":true,"domainColor":"#D9D9D9","domainWidth":2,"grid":false}},
"x2":{"field":"x2"},
"y":{"field":"y1","type":"quantitative","scale":{"domain":[0,700],"nice":false},
"axis":{"values":[0,100,200,300,400,500,600,700],"labelFontSize":40,"labelFont":"Noto Sans CJK JP","labelColor":"#000000","labelPadding":27,"ticks":false,"tickSize":0,"domain":false,"grid":false,
"title":["新","規","感","染","者","数","︵","直","近","7","日","間","移","動","平","均","︶"],"titleAngle":0,"titleX":-133.5,"titleY":301,"titleAlign":"center","titleBaseline":"middle","titleFontSize":25,"titleLineHeight":31,"titleFontWeight":"normal","titleFont":"Noto Sans CJK JP","titleColor":"#000000"}},
"y2":{"field":"y2"}}},
{"data":{"name":"grid"},"mark":{"type":"rule","color":"#D9D9D9","strokeWidth":2},
"encoding":{"y":{"field":"g","type":"quantitative"}}},
{"data":{"name":"days"},"mark":{"type":"bar","color":"#00B050","width":1.8},
"encoding":{"x":{"field":"d","type":"temporal","timeUnit":"utcyearmonthdate","bandPosition":0.5},
"y":{"field":"g","type":"quantitative"}}},
{"data":{"name":"days"},"mark":{"type":"bar","color":"#0070C0","width":1.8},
"encoding":{"x":{"field":"d","type":"temporal","timeUnit":"utcyearmonthdate","bandPosition":0.5},
"y":{"field":"t","type":"quantitative"},"y2":{"field":"g"}}},
{"data":{"name":"frame"},"mark":{"type":"rect","filled":false,"color":"#C00000","strokeWidth":3},
"encoding":{"x":{"field":"x1","type":"temporal"},"x2":{"field":"x2"},"y":{"field":"y1","type":"quantitative"},"y2":{"field":"y2"}}},
{"data":{"name":"waves"},"mark":{"type":"rule","color":"#C00000","strokeWidth":2.5},
"encoding":{"x":{"field":"x","type":"temporal"},"y":{"field":"y1","type":"quantitative"},"y2":{"field":"y2"}}},
{"data":{"name":"boxes"},"mark":{"type":"rect","fill":"#FFFFFF"},
"encoding":{"x":{"field":"x1","type":"temporal"},"x2":{"field":"x2"},"y":{"field":"y1","type":"quantitative"},"y2":{"field":"y2"}}},
{"data":{"name":"labB"},"mark":{"type":"text","align":"left","baseline":"alphabetic","fontSize":27.5,"fontWeight":"bold","color":"#000000","font":"Noto Sans CJK JP"},
"encoding":{"x":{"field":"x","type":"temporal"},"y":{"field":"y","type":"quantitative"},"text":{"field":"t"}}},
{"data":{"name":"labN"},"mark":{"type":"text","align":"left","baseline":"alphabetic","fontSize":27.5,"fontWeight":"normal","color":"#000000","font":"Noto Sans CJK JP"},
"encoding":{"x":{"field":"x","type":"temporal"},"y":{"field":"y","type":"quantitative"},"text":{"field":"t"}}},
{"data":{"name":"valN"},"mark":{"type":"text","align":"left","baseline":"alphabetic","fontSize":27.5,"fontWeight":"normal","color":"#FF0000","font":"Noto Sans CJK JP"},
"encoding":{"x":{"field":"x","type":"temporal"},"y":{"field":"y","type":"quantitative"},"text":{"field":"t"}}},
{"data":{"name":"valB"},"mark":{"type":"text","align":"left","baseline":"alphabetic","fontSize":27.5,"fontWeight":"bold","color":"#FF0000","font":"Noto Sans CJK JP"},
"encoding":{"x":{"field":"x","type":"temporal"},"y":{"field":"y","type":"quantitative"},"text":{"field":"t"}}},
{"data":{"name":"uline"},"mark":{"type":"rule","color":"#FF0000","strokeWidth":2},
"encoding":{"x":{"field":"x","type":"temporal"},"x2":{"field":"x2"},"y":{"field":"y","type":"quantitative"}}},
{"data":{"name":"legend"},"mark":{"type":"point","filled":true,"opacity":0},
"encoding":{
"color":{"field":"k","type":"nominal","scale":{"domain":["65歳以上","65歳未満","65歳以上割合"],"range":["#00B050","#0070C0","#FF0000"]},
"legend":{"orient":"none","legendX":42,"legendY":46,"direction":"horizontal","title":null,"labelFontSize":34}},
"shape":{"field":"k","type":"nominal","scale":{"domain":["65歳以上","65歳未満","65歳以上割合"],"range":["M-1,-0.27H1V0.27H-1Z","M-1,-0.27H1V0.27H-1Z","M-1,-0.075H1V0.075H-1Z"]},
"legend":{"orient":"none","legendX":42,"legendY":46,"direction":"horizontal","title":null,"labelFontSize":34}}}}
]},
{"data":{"name":"days"},"mark":{"type":"line","color":"#FF0000","strokeWidth":4.3,"strokeJoin":"round"},
"encoding":{"x":{"field":"d","type":"temporal","timeUnit":"utcyearmonthdate","bandPosition":0.5},
"y":{"field":"r","type":"quantitative","scale":{"domain":[0,100],"nice":false},
"axis":{"orient":"right","values":[0,10,20,30,40,50,60,70,80,90,100],"labelExpr":"datum.value + '%'","labelFontSize":38,"labelFont":"Noto Sans CJK JP","labelColor":"#000000","labelPadding":28,"ticks":false,"tickSize":0,"domain":false,"grid":false,
"title":["新","規","感","染","者","の","う","ち","6","5","歳","以","上","の","割","合"],"titleAngle":0,"titleX":161.5,"titleY":296,"titleAlign":"center","titleBaseline":"middle","titleFontSize":25,"titleLineHeight":32.5,"titleFontWeight":"normal","titleFont":"Noto Sans CJK JP","titleColor":"#000000"}}}}
],
"resolve":{"scale":{"y":"independent"}}
}
